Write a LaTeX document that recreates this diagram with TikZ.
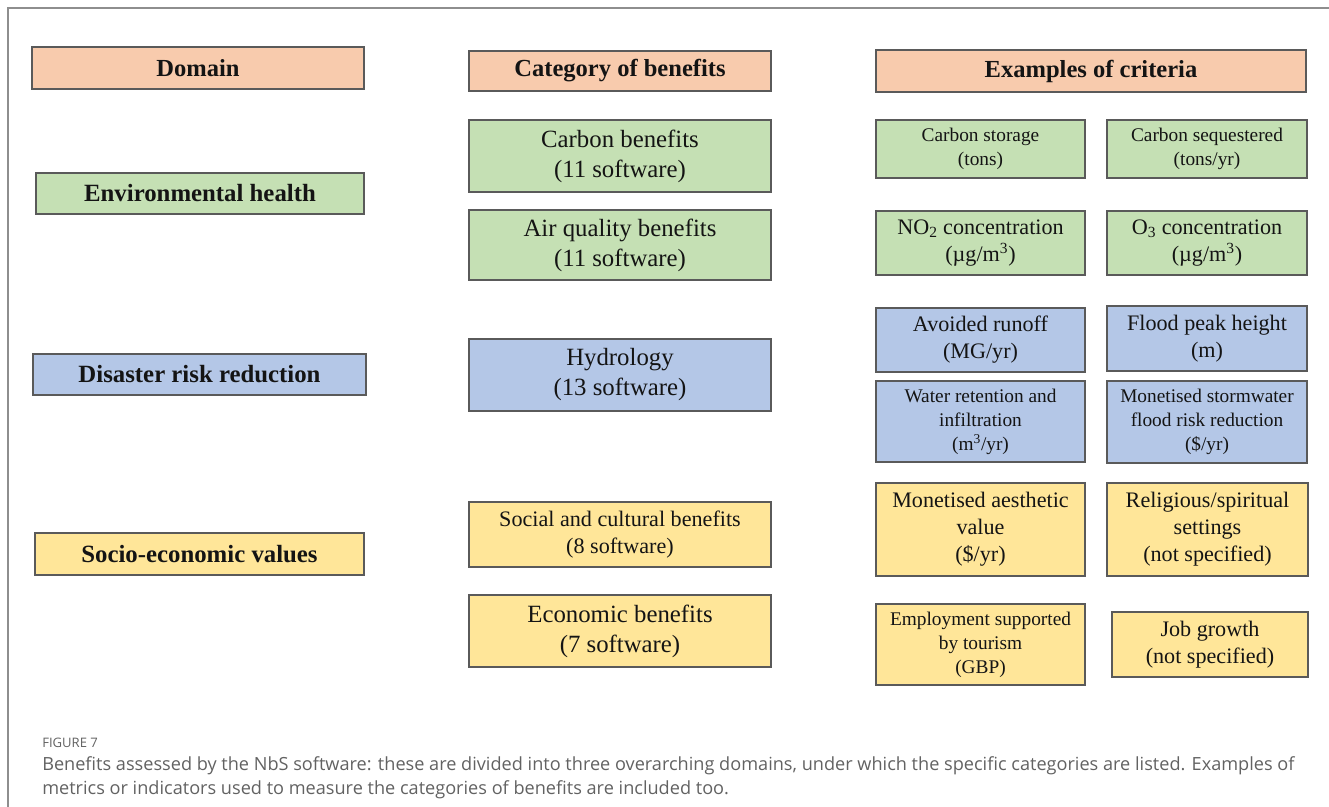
\documentclass[tikz,border=0pt]{standalone}
\usepackage{fontspec}
\setmainfont{Liberation Serif}
\newfontfamily\capfont{Open Sans}

\definecolor{hdrfill}{HTML}{F8CBAD}
\definecolor{envfill}{HTML}{C5E0B4}
\definecolor{drrfill}{HTML}{B4C7E7}
\definecolor{socfill}{HTML}{FFE699}
\definecolor{boxedge}{HTML}{5A5A5A}
\definecolor{captext}{HTML}{626262}
\definecolor{framegray}{HTML}{8E8E8E}

\tikzset{
  box/.style={draw=boxedge, line width=0.9pt, inner sep=0pt, align=center, text=black!92},
  sz/.style 2 args={minimum width={#1*0.75pt}, minimum height={#2*0.75pt}},
  head/.style={box, fill=hdrfill, font=\fontsize{18.4}{22}\selectfont\bfseries},
  dom/.style={box, font=\fontsize{18.6}{22}\selectfont\bfseries},
  big/.style={box, font=\fontsize{18.6}{22.5}\selectfont},
  mid/.style={box, font=\fontsize{16.6}{20.2}\selectfont},
  sml/.style={box, font=\fontsize{14.5}{18}\selectfont},
  env/.style={fill=envfill},
  drr/.style={fill=drrfill},
  soc/.style={fill=socfill},
  captionline/.style={anchor=base west, inner sep=0pt, text=captext},
}

\begin{document}
\begin{tikzpicture}[x=0.75pt, y=-0.75pt]
\useasboundingbox (0,0) rectangle (1329,807);

% page frame (top and left rules)
\coordinate (fb) at (8,807);
\coordinate (fc) at (8,8);
\coordinate (fr) at (1329,8);
\draw[framegray, line width=1.1pt] (fb) -- (fc) -- (fr);

% column headers
\node[head, sz={332}{42}] (hdom) at (198,68)   {Domain};
\node[head, sz={302}{40}] (hcat) at (620,71)   {Category of benefits};
\node[head, sz={430}{42}] (hcri) at (1091,71)  {Examples of criteria};

% domains
\node[dom, env, sz={328}{41}] (deh)  at (200,193.5)   {Environmental health};
\node[dom, drr, sz={333}{41}] (ddrr) at (199.5,374.5) {Disaster risk reduction};
\node[dom, soc, sz={329}{42}] (dsev) at (199.5,554)   {Socio-economic values};

% categories of benefits
\node[big, env, sz={302}{72}] (ccarb) at (620,156)   {Carbon benefits\\(11 software)};
\node[big, env, sz={302}{70}] (cair)  at (620,245)   {Air quality benefits\\(11 software)};
\node[big, drr, sz={302}{72}] (chyd)  at (620,375)   {Hydrology\\(13 software)};
\node[mid, soc, sz={302}{65}] (csoc)  at (620,534.5) {Social and cultural benefits\\(8 software)};
\node[big, soc, sz={302}{72}] (ceco)  at (620,631)   {Economic benefits\\(7 software)};

% examples of criteria
\node[sml, env, sz={209}{58}] (k1)  at (980.5,149)   {Carbon storage\\(tons)};
\node[sml, env, sz={200}{58}] (k2)  at (1207,149)    {Carbon sequestered\\(tons/yr)};
\node[mid, env, sz={209}{64}] (k3)  at (980.5,243)   {NO\textsubscript{2} concentration\\(µg/m\textsuperscript{3})};
\node[mid, env, sz={200}{64}] (k4)  at (1207,243)    {O\textsubscript{3} concentration\\(µg/m\textsuperscript{3})};
\node[mid, drr, sz={209}{64}] (k5)  at (980.5,340)   {Avoided runoff\\(MG/yr)};
\node[mid, drr, sz={200}{65}] (k6)  at (1207,338.5)  {Flood peak height\\(m)};
\node[sml, drr, sz={209}{81}] (k7)  at (980.5,421.5) {Water retention and\\infiltration\\(m\textsuperscript{3}/yr)};
\node[sml, drr, sz={200}{82}] (k8)  at (1207,422)    {Monetised stormwater\\flood risk reduction\\(\$/yr)};
\node[mid, soc, sz={209}{93}] (k9)  at (980.5,529.5) {Monetised aesthetic\\value\\(\$/yr)};
\node[mid, soc, sz={201}{93}] (k10) at (1207.5,529.5) {Religious/spiritual\\settings\\(not specified)};
\node[sml, soc, sz={209}{81}] (k11) at (980.5,644.5) {Employment supported\\by tourism\\(GBP)};
\node[mid, soc, sz={196}{65}] (k12) at (1210,644.5)  {Job growth\\(not specified)};

% caption
\node[captionline, font=\capfont\fontsize{9.8}{11}\selectfont] (figno) at (42,747) {FIGURE 7};
\node[captionline, font=\capfont\fontsize{13.6}{15}\selectfont] (cap1) at (42,770)
  {Benefits assessed by the NbS software: these are divided into three overarching domains, under which the specific categories are listed. Examples of};
\node[captionline, font=\capfont\fontsize{13.6}{15}\selectfont] (cap2) at (42,794)
  {metrics or indicators used to measure the categories of benefits are included too.};
\end{tikzpicture}
\end{document}
